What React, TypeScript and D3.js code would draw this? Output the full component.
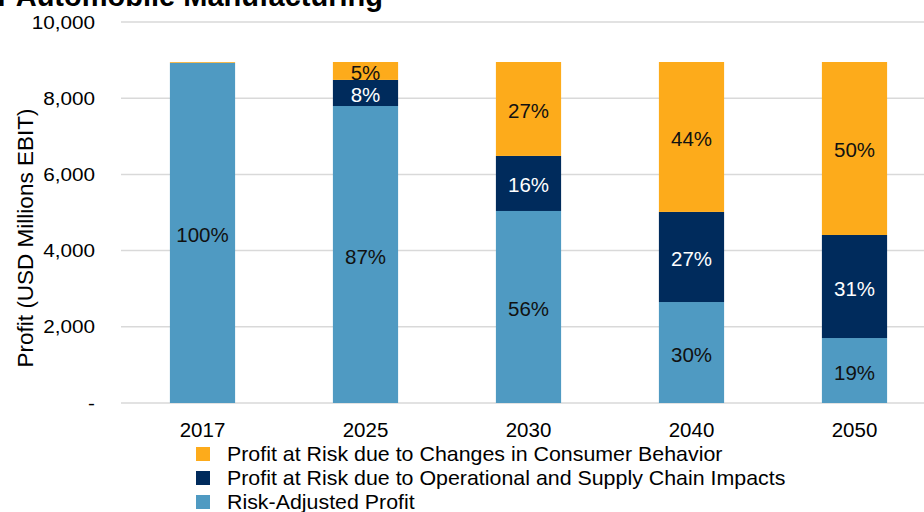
import React from "react";
import * as d3 from "d3";

const years = ["2017", "2025", "2030", "2040", "2050"];
const riskAdjusted = [8930, 7795, 5040, 2650, 1705];
const operational = [0, 685, 1445, 2365, 2705];
const consumer = [20, 470, 2465, 3935, 4540];
const pctRisk = ["100%", "87%", "56%", "30%", "19%"];
const pctOper = ["", "8%", "16%", "27%", "31%"];
const pctCons = ["", "5%", "27%", "44%", "50%"];
const yTicks = [0, 2000, 4000, 6000, 8000, 10000];
const legendItems = [
  { label: "Profit at Risk due to Changes in Consumer Behavior", color: "#FDAB1B" },
  { label: "Profit at Risk due to Operational and Supply Chain Impacts", color: "#002B5C" },
  { label: "Risk-Adjusted Profit", color: "#4F9AC2" },
];

const W = 924;
const H = 512;
const font = "Liberation Sans, Arial, sans-serif";
const fs = 20.5;

export default function App() {
  const x = d3.scaleBand().domain(years).range([121, 936]).paddingInner(0.6).paddingOuter(0.3);
  const y = d3.scaleLinear().domain([0, 10000]).range([403, 22]);
  const fmt = (v: number) => (v === 0 ? "-" : d3.format(",")(v));

  const series = [
    { vals: riskAdjusted, color: "#4F9AC2", labels: pctRisk, text: "#111" },
    { vals: operational, color: "#002B5C", labels: pctOper, text: "#fff" },
    { vals: consumer, color: "#FDAB1B", labels: pctCons, text: "#111" },
  ];

  const bars: JSX.Element[] = [];
  const labels: JSX.Element[] = [];
  years.forEach((yr, i) => {
    let base = 0;
    series.forEach((s, si) => {
      const v = s.vals[i];
      const y0 = y(base);
      const y1 = y(base + v);
      bars.push(
        <rect key={`b${i}-${si}`} x={x(yr)} y={y1} width={x.bandwidth()} height={y0 - y1} fill={s.color} />
      );
      if (s.labels[i]) {
        labels.push(
          <text key={`l${i}-${si}`} x={(x(yr) as number) + x.bandwidth() / 2} y={(y0 + y1) / 2 + 9}
            textAnchor="middle" fontSize={fs} fill={s.text} fontFamily={font}>{s.labels[i]}</text>
        );
      }
      base += v;
    });
  });

  return (
    <svg width={W} height={H} style={{ position: "absolute", left: 0, top: 0, background: "#fff" }}>
      <text x={383} y={6} textAnchor="end" fontSize={29} fontWeight="bold" fontFamily={font} fill="#000">
        for Automobile Manufacturing
      </text>
      {yTicks.map((t) => (
        <g key={t}>
          <line x1={121} x2={924} y1={y(t)} y2={y(t)} stroke="#d9d9d9" strokeWidth={1.5} />
          <text transform={`translate(95,${y(t) + 6.5}) scale(1.12,1)`} textAnchor="end" fontSize={18.5}
            fontFamily={font} fill="#000">{fmt(t)}</text>
        </g>
      ))}
      {bars}
      {labels}
      {years.map((yr) => (
        <text key={yr} x={(x(yr) as number) + x.bandwidth() / 2} y={437} textAnchor="middle" fontSize={fs}
          fontFamily={font} fill="#000">{yr}</text>
      ))}
      <text transform={`translate(33,238) rotate(-90)`} textAnchor="middle" fontSize={22.5} fontFamily={font} fill="#000">
        Profit (USD Millions EBIT)
      </text>
      {legendItems.map((it, i) => (
        <g key={it.label}>
          <rect x={196} y={447 + i * 24} width={14} height={14} fill={it.color} />
          <text transform={`translate(227,${461 + i * 24}) scale(1.043,1)`} fontSize={fs} fontFamily={font}
            fill="#000">{it.label}</text>
        </g>
      ))}
    </svg>
  );
}
